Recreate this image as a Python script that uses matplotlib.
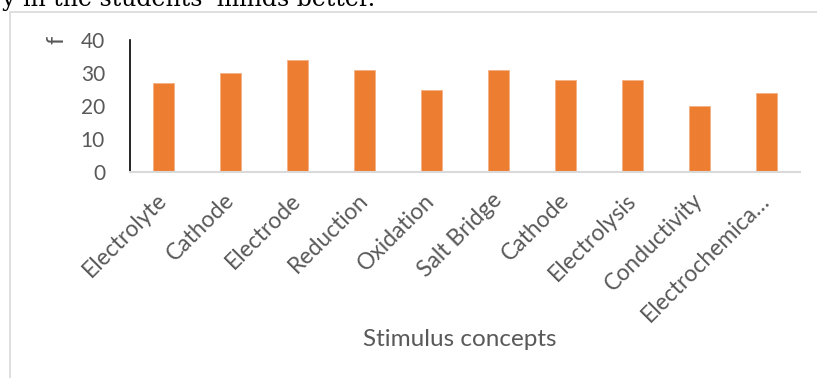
import matplotlib
matplotlib.use("Agg")
import matplotlib.pyplot as plt
from matplotlib.patches import Rectangle
import matplotlib.transforms as mtransforms

CONCEPTS = ["Electrolyte", "Cathode", "Electrode", "Reduction", "Oxidation",
            "Salt Bridge", "Cathode", "Electrolysis", "Conductivity",
            "Electrochemica\u2026"]
FREQ = [27, 30, 34, 31, 25, 31, 28, 28, 20, 24]
Y_TICKS = [0, 10, 20, 30, 40]

BAR_COLOR = "#ED7D31"
TEXT_GREY = "#595959"
FONT = "Lato"

W, H = 817, 378
fig = plt.figure(figsize=(W / 100, H / 100), dpi=100)

# chart frame (light grey border, cut off at right/bottom)
fig.patches.append(Rectangle((10 / W, -0.1), 1.2, 1.1 - 12 / H,
                             transform=fig.transFigure, fill=False,
                             edgecolor="#D9D9D9", linewidth=1.2))

# text from the page above the chart, clipped at the top
fig.text(2 / W, 1 - 6 / H, "y in the students' minds better.",
         family="DejaVu Serif", fontsize=17, color="black",
         ha="left", va="baseline")

ax = fig.add_axes([130 / W, 1 - 172 / H, 670 / W, 132 / H])
x = range(len(CONCEPTS))
ax.bar(x, FREQ, width=0.31, color=BAR_COLOR, edgecolor="#F4B183", linewidth=0.6)
ax.set_xlim(-0.5, len(CONCEPTS) - 0.5)
ax.set_ylim(0, 40)
ax.set_yticks(Y_TICKS)
ax.set_yticklabels([str(t) for t in Y_TICKS], family=FONT, fontsize=15, color=TEXT_GREY)
ax.set_xticks(list(x))
ax.set_xticklabels(CONCEPTS, family=[FONT, "DejaVu Sans"], fontsize=16.5, color=TEXT_GREY,
                   rotation=45, ha="right", va="center", rotation_mode="anchor")
shift = mtransforms.ScaledTranslation(5 / 100, 0, fig.dpi_scale_trans)
for lab in ax.get_xticklabels():
    lab.set_transform(lab.get_transform() + shift)
ax.tick_params(axis="both", length=0)
ax.tick_params(axis="y", pad=18)
ax.tick_params(axis="x", pad=18)

for s in ["top", "right"]:
    ax.spines[s].set_visible(False)
ax.spines["left"].set_color("black")
ax.spines["left"].set_linewidth(1.2)
ax.spines["bottom"].set_color("#D9D9D9")
ax.spines["bottom"].set_linewidth(1.5)

fig.text(460 / W, 1 - 340 / H, "Stimulus concepts", family=FONT, fontsize=17.5,
         color=TEXT_GREY, ha="center", va="center")
fig.text(57 / W, 1 - 40 / H, "f", family=FONT, fontsize=17, color=TEXT_GREY,
         rotation=90, ha="center", va="center")

fig.savefig("out.png", dpi=100)
